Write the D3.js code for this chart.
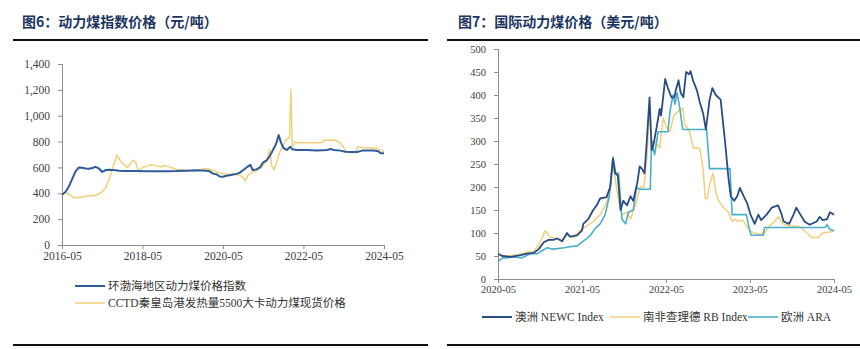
<!DOCTYPE html>
<html><head><meta charset="utf-8">
<script src="https://cdn.jsdelivr.net/npm/d3@7"></script>
<style>
body{margin:0;background:#fff;}
svg{display:block;}
</style></head>
<body>
<svg id="c" width="860" height="349"></svg>
<script>
// ---------- DATA ----------
const leftTitle = "图6：动力煤指数价格（元/吨）";
const rightTitle = "图7：国际动力煤价格（美元/吨）";
const leftYTicks = [0,200,400,600,800,1000,1200,1400];
const leftXTicks = ["2016-05","2018-05","2020-05","2022-05","2024-05"];
const rightYTicks = [0,50,100,150,200,250,300,350,400,450,500];
const rightXTicks = ["2020-05","2021-05","2022-05","2023-05","2024-05"];
const leftSeriesNames = ["环渤海地区动力煤价格指数","CCTD秦皇岛港发热量5500大卡动力煤现货价格"];
const rightSeriesNames = ["澳洲 NEWC Index","南非查理德 RB Index","欧洲 ARA"];

const bohai = [
["2016-05-01",390],["2016-06-01",410],["2016-07-01",450],["2016-08-01",510],["2016-09-01",570],["2016-10-01",600],
["2016-11-01",597],["2016-12-01",592],["2017-01-01",590],["2017-02-01",595],["2017-03-01",605],["2017-04-01",592],
["2017-05-01",565],["2017-06-01",580],["2017-07-01",582],["2017-08-01",580],["2017-09-01",578],["2017-10-01",575],
["2017-12-01",573],["2018-03-01",572],["2018-06-01",571],["2018-09-01",571],["2018-12-01",571],["2019-03-01",572],
["2019-06-01",575],["2019-09-01",578],["2019-12-01",575],["2020-01-01",570],["2020-02-01",552],["2020-03-01",548],
["2020-04-01",530],["2020-05-01",528],["2020-06-01",535],["2020-07-01",540],["2020-08-01",545],["2020-09-01",550],
["2020-10-01",560],["2020-11-01",580],["2020-12-01",600],["2021-01-05",620],["2021-01-25",580],["2021-03-01",585],
["2021-04-01",600],["2021-05-01",640],["2021-06-01",655],["2021-07-01",690],["2021-08-01",740],["2021-08-25",780],
["2021-09-18",850],["2021-10-10",790],["2021-11-01",750],["2021-12-01",735],["2022-01-01",760],["2022-01-20",740],
["2022-03-01",735],["2022-06-01",735],["2022-09-01",730],["2022-12-01",735],["2023-01-01",742],["2023-02-01",735],
["2023-04-01",730],["2023-05-15",722],["2023-07-01",720],["2023-09-01",720],["2023-10-15",730],["2023-12-01",730],
["2024-02-01",730],["2024-03-10",725],["2024-04-01",710],["2024-05-01",710]
];
const cctd = [
["2016-05-01",410],["2016-06-01",405],["2016-07-01",395],["2016-08-01",375],["2016-09-01",365],["2016-10-01",368],
["2016-11-01",372],["2016-12-01",378],["2017-01-01",380],["2017-02-01",382],["2017-03-01",383],["2017-04-15",400],
["2017-06-01",440],["2017-07-15",540],["2017-09-10",695],["2017-10-15",650],["2017-11-15",620],["2017-12-15",600],
["2018-02-05",655],["2018-03-01",640],["2018-03-25",570],["2018-05-01",600],["2018-06-15",610],["2018-07-15",620],
["2018-09-01",612],["2018-10-15",605],["2018-11-15",615],["2018-12-15",610],["2019-01-15",600],["2019-02-15",590],
["2019-03-15",580],["2019-04-15",585],["2019-05-15",580],["2019-07-01",570],["2019-08-15",575],["2019-10-01",578],
["2019-11-15",590],["2019-12-15",590],["2020-01-15",580],["2020-02-15",575],["2020-03-15",562],["2020-04-15",555],
["2020-05-15",550],["2020-07-01",545],["2020-08-15",550],["2020-10-01",540],["2020-11-01",520],["2020-11-20",497],
["2020-12-15",540],["2021-01-15",560],["2021-03-01",575],["2021-04-15",600],["2021-06-01",650],["2021-06-28",740],
["2021-07-15",620],["2021-08-05",580],["2021-08-25",625],["2021-09-20",700],["2021-10-20",760],["2021-12-01",820],
["2021-12-25",830],["2022-01-07",1200],["2022-01-20",760],["2022-02-15",800],["2022-03-10",790],["2022-06-01",790],
["2022-10-15",790],["2022-11-01",810],["2023-02-15",810],["2023-03-15",800],["2023-04-20",770],["2023-05-15",730],
["2023-06-15",720],["2023-08-15",720],["2023-09-05",760],["2023-10-15",755],["2024-01-15",750],["2024-03-15",740],
["2024-05-01",720]
];
const newc = [
["2020-05-01",55],["2020-05-19",50],["2020-06-25",48],["2020-08-07",52],["2020-09-04",55],["2020-10-04",57],
["2020-10-25",65],["2020-11-16",80],["2020-12-07",85],["2020-12-28",85],["2021-01-13",88],["2021-02-04",82],
["2021-02-25",100],["2021-03-10",92],["2021-04-10",95],["2021-05-01",105],["2021-05-07",120],["2021-05-28",130],
["2021-06-19",150],["2021-07-04",160],["2021-07-19",175],["2021-08-16",178],["2021-09-01",200],["2021-09-13",262],
["2021-09-22",230],["2021-10-04",225],["2021-10-16",150],["2021-10-28",170],["2021-11-13",160],["2021-11-28",180],
["2021-12-10",170],["2021-12-28",210],["2022-01-07",245],["2022-01-16",240],["2022-01-28",230],["2022-02-07",300],
["2022-02-19",395],["2022-02-28",280],["2022-03-07",290],["2022-03-22",330],["2022-04-04",370],["2022-04-10",355],
["2022-04-28",435],["2022-05-10",415],["2022-05-25",395],["2022-06-07",395],["2022-06-13",410],["2022-06-25",432],
["2022-07-04",405],["2022-07-16",395],["2022-07-28",450],["2022-08-10",445],["2022-08-16",452],["2022-08-28",430],
["2022-09-13",410],["2022-09-25",385],["2022-10-10",360],["2022-10-22",325],["2022-11-07",390],["2022-11-19",415],
["2022-12-04",400],["2022-12-25",390],["2023-01-13",300],["2023-01-28",220],["2023-02-07",180],["2023-02-22",170],
["2023-03-07",180],["2023-03-19",198],["2023-04-04",180],["2023-04-19",165],["2023-05-04",140],["2023-05-22",120],
["2023-06-07",140],["2023-06-19",128],["2023-07-13",140],["2023-08-04",155],["2023-09-01",160],["2023-09-13",145],
["2023-09-25",125],["2023-10-19",120],["2023-11-07",140],["2023-11-19",155],["2023-12-07",140],["2023-12-25",125],
["2024-01-16",118],["2024-02-16",125],["2024-02-28",135],["2024-03-13",128],["2024-04-01",130],["2024-04-13",145],
["2024-05-01",140]
];
const rb = [
["2020-05-01",55],["2020-05-25",50],["2020-07-22",52],["2020-09-04",58],["2020-10-04",60],["2020-11-01",80],
["2020-11-22",105],["2020-12-16",90],["2021-01-13",88],["2021-02-04",85],["2021-02-25",95],["2021-03-25",90],
["2021-04-22",105],["2021-05-22",115],["2021-06-19",125],["2021-07-19",140],["2021-08-16",165],["2021-09-01",200],
["2021-09-13",250],["2021-09-25",210],["2021-10-07",170],["2021-10-22",140],["2021-11-13",145],["2021-11-28",130],
["2021-12-19",160],["2022-01-10",200],["2022-01-25",200],["2022-02-07",260],["2022-02-19",365],["2022-03-01",290],
["2022-03-13",300],["2022-04-04",285],["2022-04-19",350],["2022-05-04",330],["2022-05-19",320],["2022-06-04",355],
["2022-06-25",365],["2022-07-13",372],["2022-07-22",335],["2022-08-10",325],["2022-08-28",285],["2022-09-25",285],
["2022-10-10",240],["2022-10-19",175],["2022-10-28",175],["2022-11-07",205],["2022-11-22",230],["2022-12-04",190],
["2022-12-16",170],["2023-01-07",155],["2023-01-28",145],["2023-02-13",125],["2023-02-25",130],["2023-03-10",125],
["2023-04-01",128],["2023-04-22",110],["2023-05-16",100],["2023-06-13",98],["2023-07-04",100],["2023-07-25",115],
["2023-08-16",125],["2023-09-01",135],["2023-09-22",120],["2023-10-22",115],["2023-11-19",115],["2023-12-10",112],
["2024-01-04",100],["2024-01-25",90],["2024-02-22",90],["2024-03-13",100],["2024-04-13",102],["2024-05-01",105]
];
const ara = [
["2020-05-01",38],["2020-05-19",45],["2020-07-07",48],["2020-08-13",46],["2020-09-19",55],["2020-10-19",55],
["2020-11-10",62],["2020-12-01",68],["2020-12-22",65],["2021-01-13",66],["2021-02-13",68],["2021-03-10",70],
["2021-04-10",72],["2021-05-01",80],["2021-05-22",88],["2021-06-07",95],["2021-06-28",110],["2021-07-19",120],
["2021-08-10",140],["2021-08-28",180],["2021-09-13",265],["2021-09-25",230],["2021-10-07",230],["2021-10-22",130],
["2021-11-07",120],["2021-11-19",145],["2021-12-10",150],["2021-12-25",200],["2022-01-04",195],["2022-02-22",195],
["2022-02-28",300],["2022-03-13",270],["2022-03-28",320],["2022-05-10",320],["2022-05-19",365],["2022-06-01",400],
["2022-06-10",380],["2022-06-19",405],["2022-07-01",370],["2022-07-13",325],["2022-10-25",325],["2022-11-07",240],
["2023-02-04",240],["2023-02-13",140],["2023-04-16",140],["2023-04-28",110],["2023-05-07",95],["2023-06-28",95],
["2023-07-04",112],["2024-03-22",112],["2024-04-01",118],["2024-04-13",108],["2024-05-01",105]
];

// ---------- DRAW ----------
const svg = d3.select("#c");
const parse = d3.timeParse("%Y-%m-%d");
const parseM = d3.timeParse("%Y-%m");
const fmtM = d3.timeFormat("%Y-%m");
const titleColor = "#1c3560";
const textColor = "#404040";
const axisColor = "#8c8c8c";
const serif = "'Liberation Serif','Times New Roman',serif";
const cjk = "'Liberation Serif','Noto Sans CJK SC',serif";

function frame(x0, x1, title, tx){
  svg.append("text").attr("x",tx).attr("y",27).text(title)
    .attr("font-family","'Noto Sans CJK SC',sans-serif").attr("font-weight","bold")
    .attr("font-size",14).attr("fill",titleColor);
  svg.append("line").attr("x1",x0).attr("x2",x1).attr("y1",40).attr("y2",40)
    .attr("stroke","#111").attr("stroke-width",2);
  svg.append("line").attr("x1",x0).attr("x2",x1).attr("y1",345).attr("y2",345)
    .attr("stroke","#111").attr("stroke-width",2);
}
frame(13, 428, leftTitle, 22);
frame(447, 860, rightTitle, 458);

function drawChart(opts){
  const x = d3.scaleTime().domain([parseM(opts.xTicks[0]), parseM(opts.xTicks[opts.xTicks.length-1])]).range([opts.left, opts.right]);
  const y = d3.scaleLinear().domain([opts.yTicks[0], opts.yTicks[opts.yTicks.length-1]]).range([opts.bottom, opts.top]);
  const g = svg.append("g");
  const yAxis = d3.axisLeft(y).tickValues(opts.yTicks).tickSize(4).tickFormat(opts.yFmt);
  const ya = g.append("g").attr("transform",`translate(${opts.left},0)`).call(yAxis);
  const xAxis = d3.axisBottom(x).tickValues(opts.xTicks.map(parseM)).tickSize(4).tickFormat(fmtM);
  const xa = g.append("g").attr("transform",`translate(0,${opts.bottom})`).call(xAxis);
  [ya,xa].forEach(a=>{
    a.select(".domain").attr("stroke",axisColor).attr("stroke-width",1);
    a.selectAll(".tick line").attr("stroke",axisColor);
    a.selectAll("text").attr("font-family",serif).attr("font-size",opts.fs).attr("fill",textColor);
  });
  ya.selectAll("text").attr("x",-12);
  xa.selectAll("text").attr("y",7);
  const line = d3.line().x(d=>x(parse(d[0]))).y(d=>y(d[1])).curve(d3.curveLinear);
  opts.series.forEach(s=>{
    g.append("path").datum(s.data).attr("d",line).attr("fill","none")
      .attr("stroke",s.color).attr("stroke-width",s.w).attr("stroke-linejoin","round");
  });
}

const cBlue = "#2f5b9a", cYellow = "#f2d07a", cNavy = "#2a4c86", cTeal = "#4aafc9";

drawChart({left:62,right:384,top:64,bottom:245,xTicks:leftXTicks,yTicks:leftYTicks,
  yFmt:d3.format(","),fs:11.5,
  series:[{data:cctd,color:cYellow,w:1.5},{data:bohai,color:cBlue,w:2}]});
drawChart({left:498,right:834,top:49,bottom:279,xTicks:rightXTicks,yTicks:rightYTicks,
  yFmt:d3.format("d"),fs:10.5,
  series:[{data:rb,color:cYellow,w:1.5},{data:ara,color:cTeal,w:1.6},{data:newc,color:cNavy,w:1.8}]});

// legends
function legendItem(x, y, color, label, w){
  svg.append("line").attr("x1",x).attr("x2",x+30).attr("y1",y).attr("y2",y).attr("stroke",color).attr("stroke-width",w);
  svg.append("text").attr("x",x+33).attr("y",y+4).text(label)
    .attr("font-family",cjk).attr("font-size",11.5).attr("fill","#333");
}
legendItem(75, 286, cBlue, leftSeriesNames[0], 2);
legendItem(75, 303, cYellow, leftSeriesNames[1], 1.5);
legendItem(482, 317, cNavy, rightSeriesNames[0], 2);
legendItem(610, 317, cYellow, rightSeriesNames[1], 1.5);
legendItem(748, 317, cTeal, rightSeriesNames[2], 1.6);
</script>
</body></html>
